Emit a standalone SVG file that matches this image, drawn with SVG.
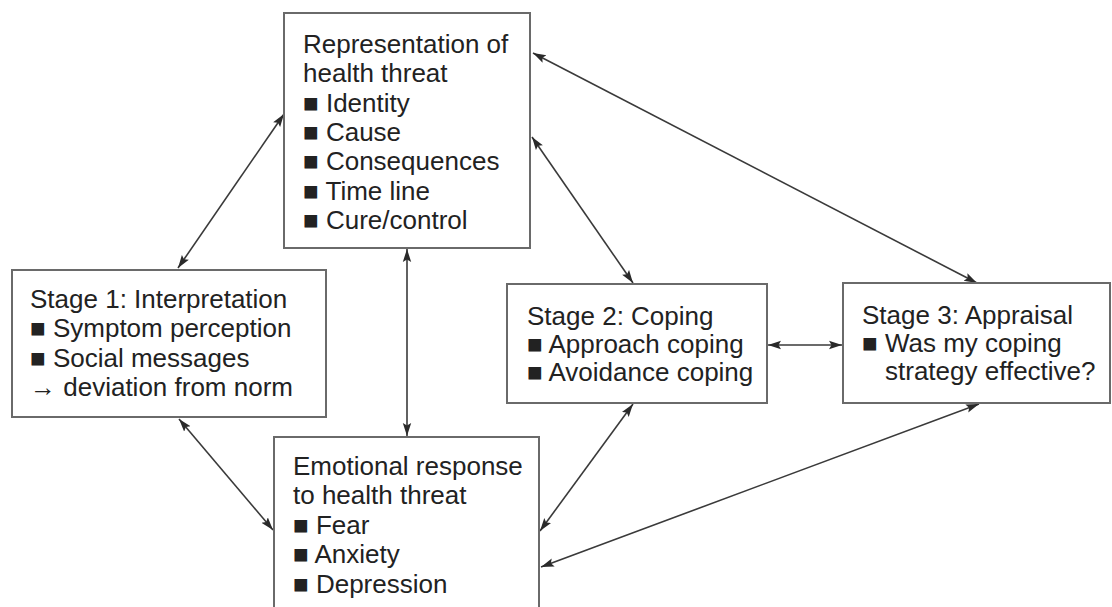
<svg xmlns="http://www.w3.org/2000/svg" width="1112" height="607" viewBox="0 0 1112 607">
<style>
.box{fill:#fff;stroke:#6a6a6a;stroke-width:2}
.t{font-family:"Liberation Sans",Arial,sans-serif;font-size:26px;fill:#222}
.c{stroke:#3a3a3a;stroke-width:1.6;fill:none;marker-start:url(#ah);marker-end:url(#ah)}
</style>
<defs>
<marker id="ah" markerUnits="userSpaceOnUse" markerWidth="14" markerHeight="10" refX="13" refY="5" orient="auto-start-reverse">
<path d="M0,0.8 L13,5 L0,9.2 L2.5,5 z" fill="#2a2a2a"/>
</marker>
</defs>
<rect width="1112" height="607" fill="#fff"/>
<g id="connectors">
<line class="c" x1="178" y1="268" x2="284" y2="114"/>
<line class="c" x1="407" y1="249" x2="407" y2="436"/>
<line class="c" x1="532" y1="137" x2="633" y2="283"/>
<line class="c" x1="533" y1="53" x2="977" y2="283"/>
<line class="c" x1="768" y1="345" x2="842" y2="345"/>
<line class="c" x1="179" y1="419" x2="273" y2="530"/>
<line class="c" x1="633" y1="404" x2="540" y2="531"/>
<line class="c" x1="979" y1="404" x2="541" y2="567"/>
</g>
<g id="representation">
<rect class="box" x="284" y="13" width="246" height="235"/>
<text class="t" x="303" y="53">Representation of</text>
<text class="t" x="303" y="82">health threat</text>
<text class="t" x="303" y="112">■ Identity</text>
<text class="t" x="303" y="141">■ Cause</text>
<text class="t" x="303" y="170">■ Consequences</text>
<text class="t" x="303" y="200">■ Time line</text>
<text class="t" x="303" y="229">■ Cure/control</text>
</g>
<g id="stage1">
<rect class="box" x="12" y="270" width="314" height="147"/>
<text class="t" x="30" y="308">Stage 1: Interpretation</text>
<text class="t" x="30" y="337">■ Symptom perception</text>
<text class="t" x="30" y="367">■ Social messages</text>
<text class="t" x="30" y="396">→ deviation from norm</text>
</g>
<g id="emotional">
<rect class="box" x="274" y="437" width="265" height="190"/>
<text class="t" x="293" y="475">Emotional response</text>
<text class="t" x="293" y="504">to health threat</text>
<text class="t" x="293" y="534">■ Fear</text>
<text class="t" x="293" y="563">■ Anxiety</text>
<text class="t" x="293" y="593">■ Depression</text>
</g>
<g id="stage2">
<rect class="box" x="507" y="284" width="260" height="119"/>
<text class="t" x="527" y="325">Stage 2: Coping</text>
<text class="t" x="527" y="353">■ Approach coping</text>
<text class="t" x="527" y="381">■ Avoidance coping</text>
</g>
<g id="stage3">
<rect class="box" x="843" y="283" width="267" height="120"/>
<text class="t" x="862" y="324">Stage 3: Appraisal</text>
<text class="t" x="862" y="352">■ Was my coping</text>
<text class="t" x="885" y="380">strategy effective?</text>
</g>
</svg>
